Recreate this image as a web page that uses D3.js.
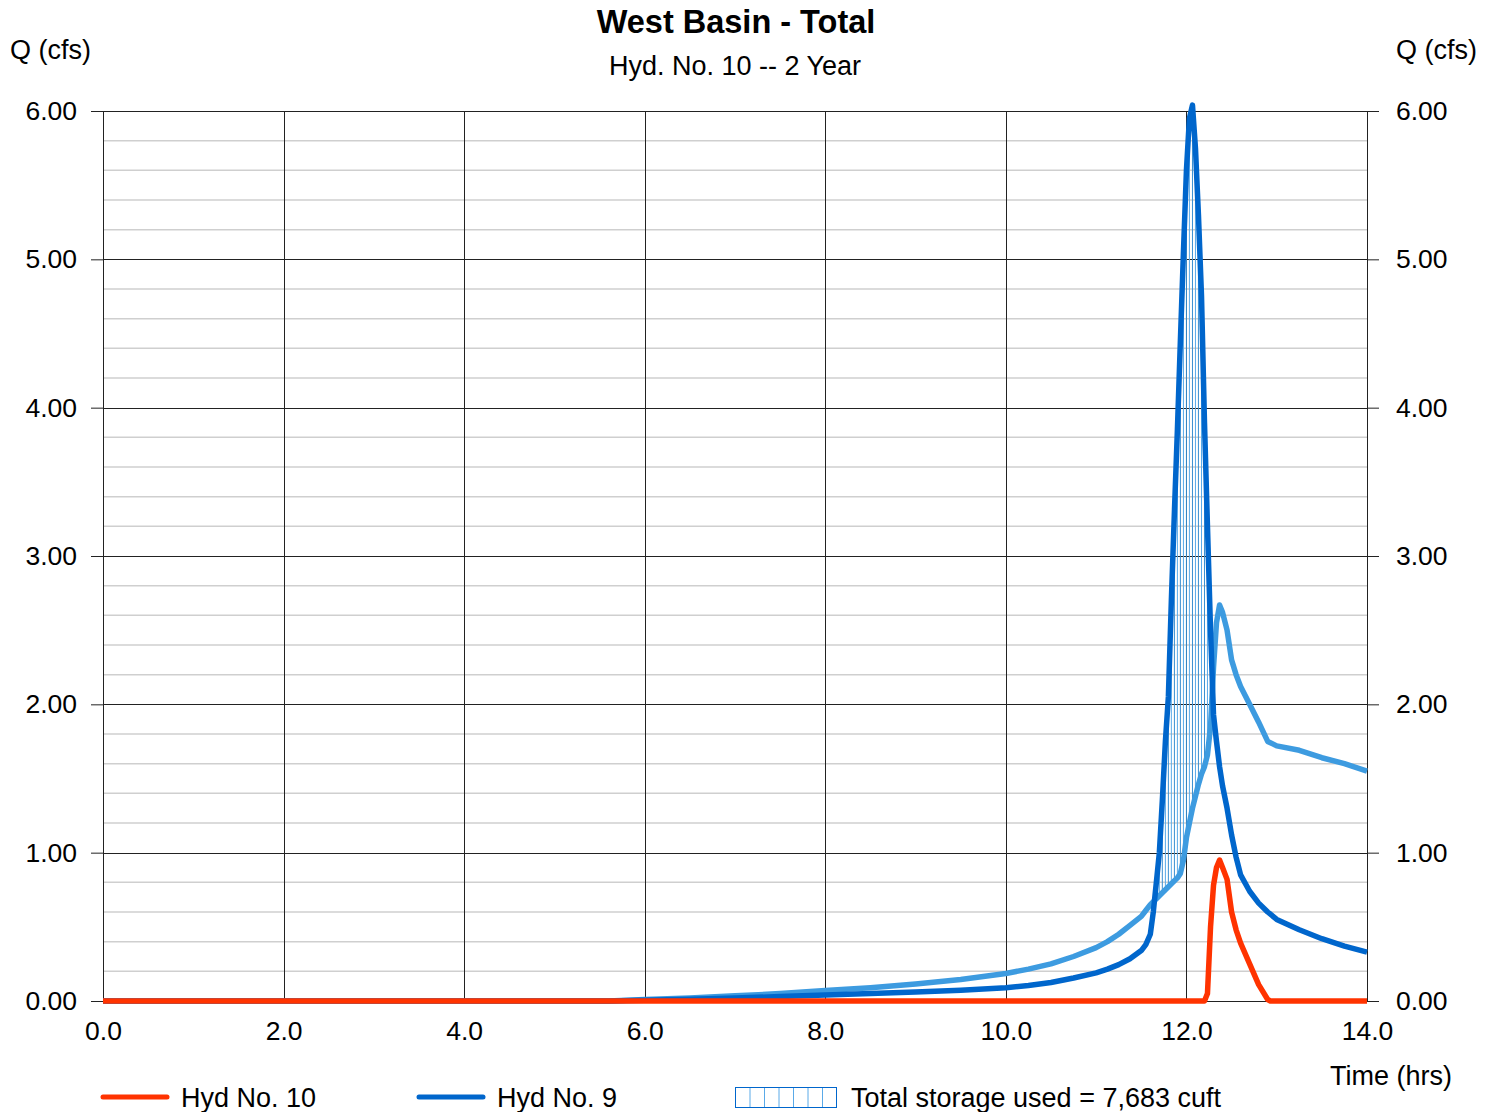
<!DOCTYPE html>
<html>
<head>
    <title>West Basin - Total</title>
    <script src="https://d3js.org/d3.v7.min.js"></script>
    <style>
        body { margin: 0; background: #fff; }
        text { font-family: "Liberation Sans", Arial, sans-serif; fill: #000; }
    </style>
</head>
<body>
    <svg id="chart"></svg>

    <script>
        // Time steps (hrs) shared by both blue hydrographs
        const times = [0, 5.6, 6.0, 6.5, 7.0, 7.5, 8.0, 8.5, 9.0, 9.5, 10.0, 10.25, 10.5, 10.75, 11.0, 11.125, 11.25, 11.375, 11.5, 11.55, 11.6,
            11.633, 11.667, 11.7, 11.733, 11.767, 11.8, 11.833, 11.867, 11.9, 11.933, 11.967, 12.0,
            12.033, 12.067, 12.1, 12.133, 12.167, 12.2, 12.233, 12.267, 12.3, 12.333, 12.367, 12.4,
            12.45, 12.5, 12.55, 12.6, 12.7, 12.8, 12.9, 13.0, 13.25, 13.5, 13.75, 14.0];

        // Hyd No. 9 (inflow)
        const hyd9 = [0, 0, 0.005, 0.012, 0.02, 0.03, 0.04, 0.05, 0.06, 0.073, 0.09, 0.105, 0.125, 0.155, 0.19, 0.215, 0.245, 0.285, 0.34, 0.38, 0.45,
            0.6, 0.8, 1.0, 1.35, 1.75, 2.05, 2.7, 3.3, 3.85, 4.45, 5.05, 5.6,
            5.95, 6.04, 5.75, 5.3, 4.75, 3.9, 3.2, 2.5, 1.93, 1.75, 1.58, 1.45,
            1.3, 1.12, 0.97, 0.85, 0.74, 0.66, 0.6, 0.55, 0.48, 0.42, 0.37, 0.33];

        // light blue hydrograph (no legend entry)
        const hydLight = [0, 0, 0.01, 0.02, 0.035, 0.05, 0.07, 0.09, 0.115, 0.145, 0.185, 0.215, 0.25, 0.3, 0.36, 0.4, 0.45, 0.51, 0.57, 0.61, 0.65,
            0.67, 0.69, 0.71, 0.73, 0.75, 0.77, 0.79, 0.81, 0.83, 0.86, 0.95, 1.1,
            1.2, 1.3, 1.38, 1.46, 1.53, 1.58, 1.66, 1.85, 2.25, 2.55, 2.67, 2.62,
            2.5, 2.3, 2.2, 2.12, 2.0, 1.88, 1.75, 1.72, 1.69, 1.64, 1.6, 1.55];

        // Hyd No. 10 (outflow)
        const times10 = [0, 12.2, 12.233, 12.267, 12.3, 12.333, 12.367, 12.4, 12.45, 12.5, 12.55, 12.6, 12.7, 12.8, 12.9, 12.93, 14.0];
        const hyd10 = [0, 0, 0.05, 0.5, 0.78, 0.9, 0.95, 0.9, 0.82, 0.6, 0.48, 0.39, 0.25, 0.11, 0.01, 0, 0];

        const xTicks = [0, 2, 4, 6, 8, 10, 12, 14];
        const yTicks = [0, 1, 2, 3, 4, 5, 6];
        const yMinor = d3.range(0, 30).map(i => i / 5).filter(v => !Number.isInteger(v));

        const width = 1496, height = 1112;
        const margin = { left: 103, right: 129, top: 111, bottom: 111 };

        const svg = d3.select('#chart')
            .attr('width', width)
            .attr('height', height);

        const x = d3.scaleLinear().domain([0, 14]).range([margin.left, width - margin.right]);
        const y = d3.scaleLinear().domain([0, 6]).range([height - margin.bottom, margin.top]);

        const blue = '#0066cc', light = '#3d9be0', red = '#ff3300';
        const fs = '26.5px';

        // minor grid
        svg.append('g').selectAll('line')
            .data(yMinor).enter().append('line')
            .attr('x1', x(0)).attr('x2', x(14))
            .attr('y1', d => y(d)).attr('y2', d => y(d))
            .attr('stroke', '#cfcfcf').attr('stroke-width', 1.5);

        // major grid
        svg.append('g').selectAll('line')
            .data(yTicks).enter().append('line')
            .attr('x1', x(0)).attr('x2', x(14))
            .attr('y1', d => Math.round(y(d)) + 0.5).attr('y2', d => Math.round(y(d)) + 0.5)
            .attr('stroke', '#222').attr('stroke-width', 1);

        svg.append('g').selectAll('line')
            .data(xTicks).enter().append('line')
            .attr('x1', d => Math.round(x(d)) + 0.5).attr('x2', d => Math.round(x(d)) + 0.5)
            .attr('y1', y(0)).attr('y2', y(6))
            .attr('stroke', '#222').attr('stroke-width', 1);

        // axes (ticks + labels, both sides)
        const leftAxis = d3.axisLeft(y).tickValues(yTicks).tickFormat(d3.format('.2f')).tickSize(12).tickPadding(14);
        const rightAxis = d3.axisRight(y).tickValues(yTicks).tickFormat(d3.format('.2f')).tickSize(12).tickPadding(17);
        const bottomAxis = d3.axisBottom(x).tickValues(xTicks).tickFormat(d3.format('.1f')).tickSize(0).tickPadding(20);

        [[leftAxis, `translate(${margin.left},0)`], [rightAxis, `translate(${width - margin.right},0)`],
         [bottomAxis, `translate(0,${height - margin.bottom})`]].forEach(([ax, tr]) => {
            const g = svg.append('g').attr('transform', tr).call(ax);
            g.select('.domain').remove();
            g.selectAll('line').attr('stroke', '#222');
            g.selectAll('text').style('font-size', fs).style('font-family', '"Liberation Sans", Arial, sans-serif');
        });

        // storage hatch: vertical lines where inflow exceeds the light curve
        const hatch = times.map((t, i) => ({ t, hi: hyd9[i], lo: hydLight[i] })).filter(d => d.hi > d.lo);
        svg.append('g').selectAll('line')
            .data(hatch).enter().append('line')
            .attr('x1', d => x(d.t)).attr('x2', d => x(d.t))
            .attr('y1', d => y(d.lo)).attr('y2', d => y(d.hi))
            .attr('stroke', (d, i) => i % 2 ? '#5aaae8' : '#3b8fd0').attr('stroke-width', 1);

        const line = d3.line().x(d => x(d[0])).y(d => y(d[1]));

        svg.append('path')
            .datum(times.map((t, i) => [t, hydLight[i]]))
            .attr('d', line).attr('fill', 'none')
            .attr('stroke', light).attr('stroke-width', 5.5).attr('stroke-linejoin', 'round');

        svg.append('path')
            .datum(times.map((t, i) => [t, hyd9[i]]))
            .attr('d', line).attr('fill', 'none')
            .attr('stroke', blue).attr('stroke-width', 5.5).attr('stroke-linejoin', 'round');

        svg.append('path')
            .datum(times10.map((t, i) => [t, hyd10[i]]))
            .attr('d', line).attr('fill', 'none')
            .attr('stroke', red).attr('stroke-width', 5.5).attr('stroke-linejoin', 'round');

        // titles
        svg.append('text').attr('x', 736).attr('y', 33).attr('text-anchor', 'middle')
            .style('font-size', '32.5px').style('font-weight', 'bold').text('West Basin - Total');
        svg.append('text').attr('x', 735).attr('y', 75).attr('text-anchor', 'middle')
            .style('font-size', '27px').text('Hyd. No. 10 -- 2 Year');
        svg.append('text').attr('x', 10).attr('y', 59).style('font-size', '27px').text('Q (cfs)');
        svg.append('text').attr('x', 1477).attr('y', 59).attr('text-anchor', 'end').style('font-size', '27px').text('Q (cfs)');
        svg.append('text').attr('x', 1452).attr('y', 1085).attr('text-anchor', 'end').style('font-size', '27px').text('Time (hrs)');

        // legend
        const legend = svg.append('g');
        [[red, 103, 181, 'Hyd No. 10'], [blue, 419, 497, 'Hyd No. 9']].forEach(([c, lx, tx, label]) => {
            legend.append('line').attr('x1', lx).attr('x2', lx + 64).attr('y1', 1097).attr('y2', 1097)
                .attr('stroke', c).attr('stroke-width', 5).attr('stroke-linecap', 'round');
            legend.append('text').attr('x', tx).attr('y', 1107).style('font-size', '27px').text(label);
        });
        legend.append('rect').attr('x', 735.5).attr('y', 1087.5).attr('width', 101).attr('height', 20)
            .attr('fill', 'none').attr('stroke', blue).attr('stroke-width', 1);
        legend.selectAll('.hl').data(d3.range(1, 7)).enter().append('line')
            .attr('x1', d => 735.5 + d * 14.5).attr('x2', d => 735.5 + d * 14.5)
            .attr('y1', 1088).attr('y2', 1107)
            .attr('stroke', '#5aaae8').attr('stroke-width', 1);
        legend.append('text').attr('x', 851).attr('y', 1107).style('font-size', '27px').text('Total storage used = 7,683 cuft');
    </script>
</body>
</html>
